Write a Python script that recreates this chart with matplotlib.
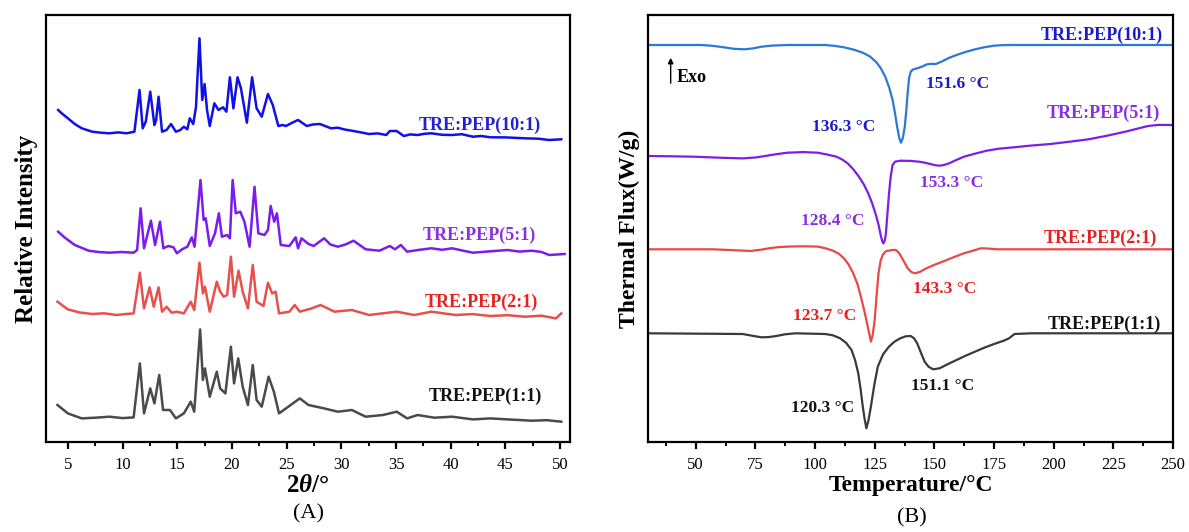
import matplotlib
matplotlib.use("Agg")
import matplotlib.pyplot as plt
from matplotlib.ticker import MultipleLocator

plt.rcParams['font.family'] = ['Liberation Serif', 'DejaVu Serif']
plt.rcParams['mathtext.fontset'] = 'custom'
plt.rcParams['mathtext.rm'] = 'Liberation Serif'
plt.rcParams['mathtext.it'] = 'Liberation Serif:italic'
plt.rcParams['mathtext.bf'] = 'Liberation Serif:bold'
plt.rcParams['mathtext.bfit'] = 'Liberation Serif:bold:italic'

# ---------------- XRD data (2theta in degrees, intensity in a.u. above baseline) -------------
xrd_labels = ["TRE:PEP(10:1)", "TRE:PEP(5:1)", "TRE:PEP(2:1)", "TRE:PEP(1:1)"]
xrd_offsets = [302, 187, 125.3, 20.3]

xrd_2t_10 = [4.11, 4.37, 5.0, 5.63, 6.27, 7.22, 8.0, 8.80, 9.6, 10.38, 11.08, 11.55, 11.84, 12.12, 12.53, 12.91,
             13.07, 13.29, 13.61, 14.02, 14.43, 14.87, 15.28, 15.6, 15.92, 16.14, 16.46, 16.71, 17.03,
             17.28, 17.5, 17.72, 17.97, 18.39, 18.77, 19.18, 19.49, 19.81, 20.13, 20.51, 20.82, 21.36,
             21.84, 22.25, 22.72, 23.29, 23.73, 24.24, 24.62, 24.94, 25.51, 26.04, 26.84, 27.4, 28.04, 29.05,
             29.68, 30.3, 30.95, 31.7, 32.53, 33.3, 34.11, 34.43, 35.06, 35.7, 36.3, 36.96, 37.6, 38.23, 39.2,
             40.13, 41.0, 42.03, 42.8, 43.6, 45.0, 46.77, 48.0, 48.99, 50.1]
xrd_int_10 = [30, 27.3, 21.7, 16, 11.7, 8.3, 7.3, 6.7, 7.6, 6.7, 8.3, 50, 11.7, 18.3, 48.3, 15,
              20, 43.3, 8.3, 10, 16, 8.3, 10, 13.3, 10.7, 21.7, 16, 33, 101.7,
              40, 56, 30, 14, 36.7, 30, 32.7, 28.3, 62.7, 31.7, 62.7, 51.7, 17.3,
              62.7, 31.7, 23.3, 46, 35, 14, 15, 14, 17.3, 20, 14, 15.5, 16, 11.7,
              12.3, 10.5, 9.3, 7.8, 6, 6.6, 5, 9, 9, 4, 5.6, 5, 6.2, 6.7, 5.2,
              5, 5.8, 3.3, 4.0, 2.7, 2.6, 1.7, 1.3, 0, 0.7]

xrd_2t_5 = [4.11, 4.68, 5.63, 6.9, 7.8, 8.8, 9.9, 11.01, 11.33, 11.65, 11.96, 12.59, 12.97, 13.42, 13.73, 14.18,
            14.65, 14.97, 15.44, 15.92, 16.33, 16.58, 17.12, 17.41, 17.6, 17.97, 18.45, 18.8, 19.08,
            19.56, 19.81, 20.06, 20.35, 20.76, 21.14, 21.61, 22.06, 22.41, 22.97, 23.29, 23.54, 23.86,
            24.11, 24.46, 25.25, 25.82, 26.04, 26.36, 27.0, 27.47, 28.42, 29.0, 29.68, 30.4, 31.11, 32.22, 33.48, 34.43,
            34.9, 35.44, 36.01, 37.0, 38.23, 39.2, 40.13, 41.0, 42.03, 43.5, 45.19, 46.3, 47.41, 48.3, 48.99, 50.41]
xrd_int_5 = [23.3, 17.7, 10, 4.3, 3.0, 2.3, 3.0, 2.3, 5, 46.7, 6.7, 34.3, 10, 33.3, 6.7, 9,
             7.7, 1.7, 5.7, 8.3, 17.7, 8.3, 75, 35, 36.7, 9, 21.7, 41.7, 18.3,
             20, 16.7, 75, 41.7, 43.3, 33.3, 8.3, 68.3, 21.7, 20, 25, 49, 33.3,
             41.7, 10, 9, 17.7, 6.7, 16.7, 11, 9, 16.7, 10.5, 8.3, 10.6, 14.3, 5.7, 4.3, 9,
             5.7, 10, 3.3, 5.0, 6.7, 5.2, 6.7, 4.6, 2.3, 3.6, 5, 3.4, 4.3, 3.0, 0, 1]

xrd_2t_2 = [4.05, 5.0, 6.1, 7.22, 8.3, 9.43, 10.2, 11.01, 11.58, 11.96, 12.47, 12.85, 13.29, 13.61, 14.02, 14.49, 14.97,
            15.6, 16.23, 16.55, 17.03, 17.34, 17.53, 17.97, 18.61, 18.92, 19.24, 19.56, 19.9, 20.19,
            20.6, 20.98, 21.46, 21.9, 22.25, 22.88, 23.29, 23.67, 23.99, 24.3, 25.25, 25.73, 26.2,
            27.2, 28.1, 29.37, 30.95, 32.53, 33.8, 35.06, 36.65, 38.23, 40.44, 42.0, 43.6, 45.2, 46.77, 48.3, 49.62, 50.1]
xrd_int_2 = [15, 7.3, 4.2, 2.7, 3.4, 1.7, 2.6, 3.3, 44, 8.3, 29.3, 10, 29.3, 5, 10, 4, 5,
             3.3, 15, 6.7, 54, 23.3, 30, 5, 35, 25, 20, 21.7, 60, 20,
             46, 25, 8.3, 51.7, 15, 10.7, 34, 23.3, 25, 3.3, 5, 11.7, 5,
             8.0, 11.7, 5, 6.7, 1.7, 3.4, 5, 1.7, 5, 1.7, 2.6, 0.7, 1.5, 0, 1.0, -1.7, 3.3]

xrd_2t_1 = [4.05, 5.0, 6.27, 7.5, 8.8, 10.0, 11.01, 11.58, 11.96, 12.53, 12.91, 13.35, 13.7, 14.34, 14.87, 15.6,
            16.23, 16.55, 17.09, 17.34, 17.53, 17.97, 18.61, 18.92, 19.4, 19.9, 20.19, 20.57, 20.98,
            21.46, 21.9, 22.25, 22.72, 23.35, 23.83, 24.3, 25.57, 26.2, 26.99, 28.42, 29.68, 30.95,
            32.22, 33.8, 35.06, 36.01, 36.96, 38.5, 40.13, 42.03, 43.6, 45.19, 47.41, 48.8, 50.1]
xrd_int_1 = [16.7, 8.3, 3.3, 4.0, 5, 3.6, 4.3, 58.3, 8.3, 33.3, 18.3, 46.7, 11.7, 11.7, 3.3, 8.3,
             20, 10, 92.3, 41.7, 53.3, 25, 50, 33.3, 28.3, 75, 38.3, 63.3, 35,
             16.7, 56.7, 21.7, 15, 45, 30, 8.3, 18.3, 23.3, 16.7, 13.3, 10, 11.7,
             5, 6.7, 10, 3.3, 6.7, 4.0, 5, 2.3, 3.3, 2.3, 1, 1.5, 0]

xrd_x = [xrd_2t_10, xrd_2t_5, xrd_2t_2, xrd_2t_1]
xrd_y = [xrd_int_10, xrd_int_5, xrd_int_2, xrd_int_1]
xrd_colors = ["#1010e8", "#7a1cf0", "#e8504c", "#4a4a4a"]
xrd_text_colors = ["#2020d0", "#8a30e0", "#e82020", "#111111"]
xrd_label_pos = [(48.2, 317), (47.8, 207), (48.0, 140), (48.3, 46)]

# ---------------- DSC data (temperature in C, heat flow in a.u. relative to baseline) -------
dsc_offsets = [397, 285.3, 192.7, 108.7]

dsc_T_10 = [30.3, 52.4, 57, 61.8, 66, 70.4, 74, 77.5, 82, 88.5, 104.2, 108, 112.1, 116, 120, 123, 125.5,
            127.5, 129.4, 131, 132.5, 133.5, 134.4, 135.3, 136, 136.8, 137.6, 138.3, 138.8, 139.4,
            140.1, 141, 142.8, 145, 146.7, 148.5, 150.6, 153, 156, 159.3, 163, 167.1, 171, 175, 178,
            182.9, 250.5]
dsc_hf_10 = [0, 0, -0.8, -2.3, -3.8, -4.3, -3.4, -1.7, -0.6, 0, 0, -0.8, -2.3, -4.5, -7.7, -11.5, -16.7,
             -23, -31.7, -42, -55, -68, -81.7, -93, -97.7, -93, -81.7, -64, -48.3, -33,
             -26.7, -24.5, -23.3, -21.5, -19.5, -18.8, -19, -16.7, -13, -10, -7, -4.3, -2.2, -0.7, -0.2,
             0, 0]

dsc_T_5 = [30.3, 40, 49.2, 60, 69.7, 75, 79.1, 84, 88.5, 95, 101.1, 105, 109, 111.5, 113.7, 116, 118.4,
           120.5, 122.3, 124, 125.5, 126.6, 127.5, 128.1, 128.6, 129.2, 129.7, 130.3, 131, 131.7,
           132.5, 133.5, 135.7, 140, 143.6, 146, 148.3, 150.5, 152.2, 154, 156.1, 159, 162.4, 167,
           171.9, 177, 182.9, 190, 198.6, 206, 214.3, 222, 230, 235, 239.5, 244, 249.7]
dsc_hf_5 = [0.7, 0.4, 0, -1.0, -1.7, -0.8, 0.7, 2.6, 4, 4.6, 4, 2.2, 0, -3, -6.7, -12.5, -20,
            -28, -36.7, -47, -58.3, -68, -78.3, -84, -86.7, -84, -76.7, -58, -36.7, -20,
            -8.3, -5, -4, -4.2, -5, -6, -7.3, -8.6, -9, -8.3, -6.7, -3.5, 0, 3,
            6, 8, 9.3, 11, 12.7, 14.8, 17.3, 20.8, 25, 28, 30.7, 31.8, 31.7]

dsc_T_2 = [30.3, 57.1, 65, 72.8, 77, 80.7, 84, 88.5, 95, 101.1, 104.5, 107.4, 110, 112.1, 114, 116, 117.8,
           119.2, 120.4, 121.5, 122.5, 123.4, 124.2, 125, 125.8, 126.6, 127.5, 128.6, 129.8, 131, 132.5,
           133.8, 134.8, 135.7, 137.2, 138.8, 140.5, 142, 144, 146.7, 150, 154.6, 158, 162.4, 166,
           169.5, 172, 176.6, 249.7]
dsc_hf_2 = [0, 0, -0.8, -1.7, -0.5, 1, 2.0, 2.7, 3.0, 2.7, 1.0, -1.3, -4.5, -9, -15, -24, -35,
            -47.3, -59, -70.7, -82, -92.3, -85, -70.7, -46, -24, -11, -4.7, -1.8, -1.3, -0.6,
            -0.7, -2.5, -5.7, -12, -19, -23, -24, -22.5, -19, -15.5, -11.3, -8, -4, -1.5,
            1, 0.8, 0, 0]

dsc_T_1 = [30.3, 69.7, 74, 77.5, 80.5, 83.8, 87.5, 91.7, 104.2, 107.5, 110.5, 113, 115.3, 116.8, 118.1,
           119.1, 120, 120.8, 121.5, 122.4, 123.4, 124.8, 126.3, 128.5, 131, 133.2, 135.7, 138, 140.1,
           141.5, 142.8, 144.3, 145.9, 147.6, 149.5, 152.2, 155.5, 159.3, 163, 167.1, 171, 175, 179,
           181.3, 183.6, 190.7, 249.7]
dsc_hf_1 = [0, -0.7, -2.6, -4, -3.8, -2.7, -1.0, 0, -0.7, -2.0, -5, -9.5, -16.7, -27, -40,
            -56, -73.3, -86, -95, -87, -73.3, -52, -33.3, -21, -13.3, -8.5, -5, -3, -2.7,
            -5, -10, -19, -28.3, -33.5, -36, -35, -31, -26.7, -22.5, -18.3, -14.3, -10.7, -7.5,
            -5, -0.7, 0, 0]

dsc_x = [dsc_T_10, dsc_T_5, dsc_T_2, dsc_T_1]
dsc_y = [dsc_hf_10, dsc_hf_5, dsc_hf_2, dsc_hf_1]
dsc_colors = ["#2a78d8", "#7a1ee8", "#e84848", "#3a3a3a"]
dsc_text_colors = ["#1a1acc", "#8830e0", "#e82020", "#111111"]
dsc_label_pos = [(245.8, 407), (244.5, 329), (243.4, 204), (245, 118)]

peak_texts = ["151.6 °C", "136.3 °C", "153.3 °C", "128.4 °C",
              "143.3 °C", "123.7 °C", "151.1 °C", "120.3 °C"]
peak_pos = [(146.7, 358), (98.7, 315), (143.9, 259), (94.0, 221),
            (141.2, 153), (90.9, 126), (140.1, 56), (89.8, 34)]
peak_colors = ["#1a1acc", "#1a1acc", "#8830e0", "#8830e0",
               "#e82020", "#e82020", "#111111", "#111111"]

# ---------------- figure ----------------
W, H = 1189, 532
fig = plt.figure(figsize=(W / 100, H / 100), dpi=100)
axA = fig.add_axes([46 / W, 1 - 442 / H, (570 - 46) / W, (442 - 15) / H])
axB = fig.add_axes([648 / W, 1 - 442 / H, (1173 - 648) / W, (442 - 15) / H])

def style(ax):
    for s in ax.spines.values():
        s.set_linewidth(1.6)
    ax.tick_params(axis='x', which='major', direction='out', length=5, width=1.6,
                   labelsize=12, pad=6, top=False)
    ax.tick_params(axis='x', which='minor', direction='out', length=3, width=1.4, top=False)
    ax.tick_params(axis='y', which='both', left=False, right=False, labelleft=False)
    ax.set_ylim(0, 427)

# XRD panel
for xs, ys, off, c in zip(xrd_x, xrd_y, xrd_offsets, xrd_colors):
    axA.plot(xs, [v + off for v in ys], color=c, lw=1.8, solid_joinstyle='round')
for lab, (x, y), c in zip(xrd_labels, xrd_label_pos, xrd_text_colors):
    axA.text(x, y, lab, color=c, fontsize=13, fontweight='bold', ha='right', va='center')
axA.set_xlim(3.0, 50.9)
axA.xaxis.set_major_locator(MultipleLocator(5))
axA.xaxis.set_minor_locator(MultipleLocator(2.5))
style(axA)
axA.set_ylabel("Relative Intensity", fontsize=18, fontweight='bold', labelpad=6)
axA.set_xlabel(r"$\mathbf{2}\mathbfit{\theta}\mathbf{/°}$", fontsize=18, labelpad=1)

# DSC panel
for xs, ys, off, c in zip(dsc_x, dsc_y, dsc_offsets, dsc_colors):
    axB.plot(xs, [v + off for v in ys], color=c, lw=1.6, solid_joinstyle='round')
for lab, (x, y), c in zip(xrd_labels, dsc_label_pos, dsc_text_colors):
    axB.text(x, y, lab, color=c, fontsize=13, fontweight='bold', ha='right', va='center')
for t, (x, y), c in zip(peak_texts, peak_pos, peak_colors):
    axB.text(x, y, t, color=c, fontsize=12.5, fontweight='bold', ha='left', va='center')
axB.annotate("", xy=(39.5, 387), xytext=(39.5, 356),
             arrowprops=dict(arrowstyle='-|>', color='black', lw=1.0, mutation_scale=8))
axB.text(41.8, 365, "Exo", fontsize=13, fontweight='bold', ha='left', va='center')
axB.set_xlim(30, 250)
axB.xaxis.set_major_locator(MultipleLocator(25))
axB.xaxis.set_minor_locator(MultipleLocator(12.5))
style(axB)
axB.set_xticks([50, 75, 100, 125, 150, 175, 200, 225, 250])
axB.set_ylabel("Thermal Flux(W/g)", fontsize=17, fontweight='bold', labelpad=6)
axB.set_xlabel("Temperature/°C", fontsize=17, fontweight='bold', labelpad=1)

fig.text(308 / W, 1 - 514 / H, "(A)", fontsize=16, ha='center', va='center')
fig.text(912 / W, 1 - 518 / H, "(B)", fontsize=16, ha='center', va='center')

fig.savefig("out.png", dpi=100)
